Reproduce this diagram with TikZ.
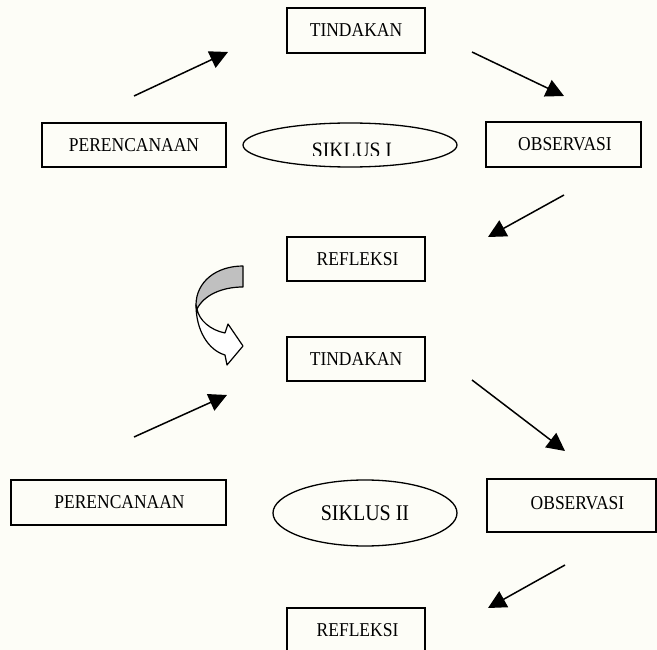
\documentclass[tikz,border=0pt]{standalone}
\usepackage{fontspec}
\setmainfont{Liberation Serif}
\usetikzlibrary{shapes.geometric,arrows.meta}
\newcommand\vst[1]{\scalebox{1}[1.12]{#1}}
\definecolor{bgcream}{RGB}{253,253,247}
\definecolor{ribbongray}{RGB}{192,192,192}
\begin{document}
\begin{tikzpicture}[x=1pt,y=-1pt,
  box/.style={draw, line width=1.3pt, inner sep=0pt, font=\fontsize{17.5pt}{20pt}\selectfont},
  oval/.style={draw, ellipse, line width=1.3pt, inner sep=0pt, font=\fontsize{20pt}{24pt}\selectfont},
  arr/.style={line width=1.5pt, -{Triangle[length=18pt,width=18pt]}},
  ribbon/.style={draw, line width=1.2pt, line join=round}]
\useasboundingbox (0,0) rectangle (657,650);
\fill[bgcream] (0,0) rectangle (657,650);

% ---- cycle I ----
\node[box, minimum width=138pt, minimum height=45pt] (t1) at (356,30.5) {\vst{TINDAKAN}};
\node[box, minimum width=184pt, minimum height=44pt] (p1) at (134,145) {\vst{PERENCANAAN}};
\node[box, minimum width=155pt, minimum height=45pt] (o1) at (563.5,144.5) {\hspace*{3pt}\vst{OBSERVASI}};
\node[box, minimum width=138pt, minimum height=44pt] (r1) at (356,259) {\hspace*{3pt}\vst{REFLEKSI}};
\node[oval, minimum width=214pt, minimum height=44pt] (e1) at (350,145) {};
\begin{scope}
  \clip (240,120) rectangle (460,155.5);
  \node[font=\fontsize{19.6pt}{24pt}\selectfont, inner sep=0pt, anchor=base] (s1) at (352,158) {\vst{SIKLUS I}};
\end{scope}

\coordinate (a1s) at (134,96);  \coordinate (a1e) at (228,52);
\coordinate (a2s) at (472,52);  \coordinate (a2e) at (564,96);
\coordinate (a3s) at (564,195); \coordinate (a3e) at (488,237);
\draw[arr] (a1s) -- (a1e);
\draw[arr] (a2s) -- (a2e);
\draw[arr] (a3s) -- (a3e);

% ---- curved transition arrow ----
\draw[ribbon, fill=ribbongray]
  (243,266) .. controls (216,266) and (196,282) .. (196,305)
  -- (197,309) .. controls (204,295) and (222,287) .. (243,287) -- cycle;
\draw[ribbon, fill=white]
  (196,305) .. controls (196,330) and (208,350) .. (225,355)
  -- (227,365) -- (243,346) -- (228,324) -- (225,333)
  .. controls (210,330) and (199,320) .. (197,309) -- cycle;

% ---- cycle II ----
\node[box, minimum width=138pt, minimum height=44pt] (t2) at (356,359) {\vst{TINDAKAN}};
\node[box, minimum width=215pt, minimum height=45pt] (p2) at (118.5,502.5) {\hspace*{2pt}\vst{PERENCANAAN}};
\node[box, minimum width=169pt, minimum height=53pt] (o2) at (571.5,505.5) {\raisebox{5pt}{\hspace*{12pt}\vst{OBSERVASI}}};
\node[box, minimum width=138pt, minimum height=44pt] (r2) at (356,630) {\hspace*{3pt}\vst{REFLEKSI}};
\node[oval, minimum width=184pt, minimum height=66pt] (e2) at (365,513) {\vst{SIKLUS II}};

\coordinate (a4s) at (134,437); \coordinate (a4e) at (227,395);
\coordinate (a5s) at (472,380); \coordinate (a5e) at (565,451);
\coordinate (a6s) at (565,565); \coordinate (a6e) at (488,608);
\draw[arr] (a4s) -- (a4e);
\draw[arr] (a5s) -- (a5e);
\draw[arr] (a6s) -- (a6e);
\end{tikzpicture}
\end{document}
